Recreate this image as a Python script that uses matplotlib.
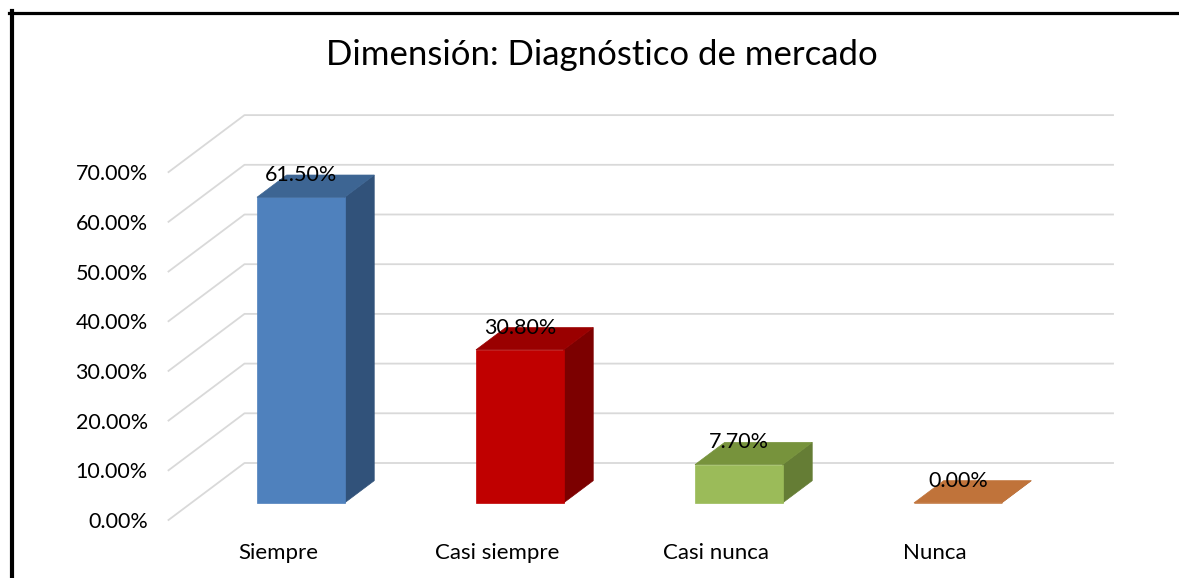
import matplotlib.pyplot as plt
from matplotlib.patches import Polygon
from matplotlib.lines import Line2D

categories = ['Siempre', 'Casi siempre', 'Casi nunca', 'Nunca']
values = [61.5, 30.8, 7.7, 0.0]
value_labels = ['61.50%', '30.80%', '7.70%', '0.00%']
ticks = [0, 10, 20, 30, 40, 50, 60, 70]
tick_labels = ['%.2f%%' % t for t in ticks]

front_colors = ['#4f81bd', '#c00000', '#9bbb59', '#c0733a']
top_colors = ['#3d6593', '#9a0000', '#77933c', '#c0733a']
side_colors = ['#31527a', '#7c0000', '#657d35', '#9c5c2d']

plt.rcParams['font.family'] = ['Lato', 'DejaVu Sans']

fig = plt.figure(figsize=(11.79, 5.78), dpi=100)
ax = fig.add_axes([0, 0, 1, 1])
ax.set_xlim(-1.2694, 4.1142)
ax.set_ylim(-11.67, 104.63)
ax.axis('off')

# fake 3D: oblique offset for the full depth of the plot, in data units
ox, oy = 0.347, 11.47
d0, d1 = 0.3, 0.69      # bar depth range (fraction of floor depth)
half = 0.2              # half bar width
x_start, x_end = -0.5, 3.466


def proj(x, y, d):
    return (x + d * ox, y + d * oy)


# gridlines: side wall + back wall
for t, lab in zip(ticks, tick_labels):
    ax.plot([x_start, x_start + ox, x_end + ox], [t, t + oy, t + oy],
            color='#d9d9d9', lw=1.3, zorder=1)
    ax.annotate(lab, xy=(x_start, t), xytext=(-15, -1.5),
                textcoords='offset points', ha='right', va='center',
                fontsize=15.5)

for i, (v, lab) in enumerate(zip(values, value_labels)):
    x0, x1 = i - half, i + half
    front = [proj(x0, 0, d0), proj(x1, 0, d0), proj(x1, v, d0), proj(x0, v, d0)]
    side = [proj(x1, 0, d0), proj(x1, 0, d1), proj(x1, v, d1), proj(x1, v, d0)]
    top = [proj(x0, v, d0), proj(x1, v, d0), proj(x1, v, d1), proj(x0, v, d1)]
    for pts, c in ((side, side_colors[i]), (front, front_colors[i]), (top, top_colors[i])):
        ax.add_patch(Polygon(pts, closed=True, facecolor=c, edgecolor=c,
                             lw=0.5, zorder=2))
    ax.annotate(lab, xy=proj(i, v, d0), xytext=(0, 16),
                textcoords='offset points', ha='center', va='center',
                fontsize=15.5, zorder=3)
    ax.annotate(categories[i], xy=(i, 0), xytext=(0, -23.5),
                textcoords='offset points', ha='center', va='center',
                fontsize=16)

fig.text(602 / 1179, 1 - 55 / 578, 'Dimensión: Diagnóstico de mercado',
         ha='center', va='center', fontsize=25)

# chart frame (left and top edges visible)
fig.add_artist(Line2D([11.5 / 1179, 11.5 / 1179], [1 - 11 / 578, 0],
                      transform=fig.transFigure, color='black', lw=3))
fig.add_artist(Line2D([9.5 / 1179, 1], [1 - 12.5 / 578, 1 - 12.5 / 578],
                      transform=fig.transFigure, color='black', lw=2.3))

fig.savefig('out.png', dpi=100)
